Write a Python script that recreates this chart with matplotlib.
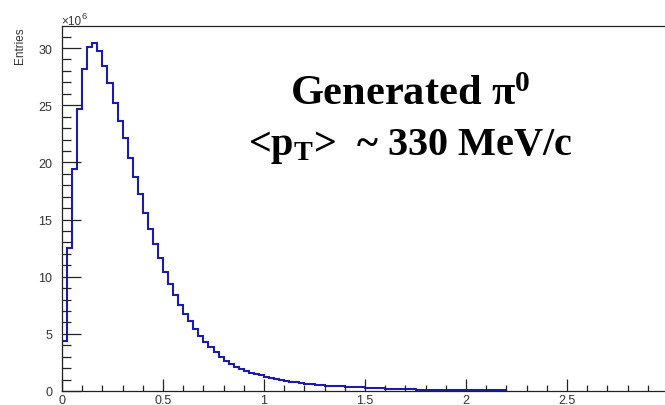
import numpy as np
import matplotlib
matplotlib.use("Agg")
import matplotlib.pyplot as plt
from matplotlib.ticker import MultipleLocator

# generated pi0 pT spectrum, entries in units of 1e6, bins of 0.025 GeV/c from 0 to 2.2
bin_lo = 0.0
bin_hi = 2.2
entries = [
    4.4, 12.5, 19.4, 24.7, 28.2, 30.1, 30.4, 29.7, 28.4, 26.9,
    25.2, 23.6, 22.1, 20.4, 18.7, 17.2, 15.6, 14.2, 12.9, 11.6,
    10.4, 9.4, 8.4, 7.5, 6.75, 6.1, 5.42, 4.85,
    4.3, 3.85, 3.4, 3.0, 2.65, 2.35, 2.1, 1.9, 1.75, 1.6,
    1.5, 1.38, 1.25, 1.12, 1.02, 0.93, 0.87, 0.80, 0.75, 0.68,
    0.64, 0.58, 0.52, 0.50, 0.47, 0.45, 0.43, 0.41, 0.38, 0.36,
    0.34, 0.32, 0.29, 0.27, 0.25, 0.22, 0.19, 0.17, 0.16, 0.15,
    0.14, 0.14, 0.13, 0.13, 0.13, 0.12, 0.12, 0.12, 0.11, 0.11,
    0.11, 0.11, 0.10, 0.10, 0.10, 0.10, 0.10, 0.10, 0.10, 0.10,
]
edges = np.linspace(bin_lo, bin_hi, len(entries) + 1)
xticks = [0, 0.5, 1, 1.5, 2, 2.5]
xticklabels = ["0", "0.5", "1", "1.5", "2", "2.5"]

plt.rcParams["mathtext.fontset"] = "custom"
plt.rcParams["mathtext.rm"] = "Liberation Serif:bold"
plt.rcParams["mathtext.it"] = "Liberation Serif:bold"
plt.rcParams["mathtext.bf"] = "Liberation Serif:bold"

fig = plt.figure(figsize=(6.65, 4.06), dpi=100)
ax = fig.add_axes([62 / 665, 14 / 406, 606 / 665, 365 / 406])

ax.stairs(entries, edges, color="#1c1cac", lw=1.5)

ax.set_xlim(0, 3)
ax.set_ylim(0, 31.93)

ax.xaxis.set_minor_locator(MultipleLocator(0.1))
ax.yaxis.set_major_locator(MultipleLocator(5))
ax.yaxis.set_minor_locator(MultipleLocator(1))
ax.set_xticks(xticks)
ax.set_xticklabels(xticklabels)

ax.tick_params(axis="x", which="major", direction="in", length=8.6, width=0.9,
               color="#222222", pad=2.5, labelsize=9, labelcolor="#333333")
ax.tick_params(axis="x", which="minor", direction="in", length=4.3, width=0.9, color="#222222")
ax.tick_params(axis="y", which="major", direction="in", length=13.7, width=0.9,
               color="#222222", pad=7, labelsize=9, labelcolor="#333333")
ax.tick_params(axis="y", which="minor", direction="in", length=6.5, width=0.9, color="#222222")
for lab in ax.get_xticklabels() + ax.get_yticklabels():
    lab.set_family("Liberation Sans")

for s in ax.spines.values():
    s.set_color("#222222")
    s.set_linewidth(0.9)

fig.text(20 / 665, 1 - 27 / 406, "Entries", rotation=90, ha="center", va="top",
         fontsize=8.5, family="Liberation Sans", color="#333333")
fig.text(61 / 665, 1 - 25 / 406, "×10", ha="left", va="baseline",
         fontsize=8.5, family="Liberation Sans", color="#333333")
fig.text(82 / 665, 1 - 19 / 406, "6", ha="left", va="baseline",
         fontsize=6.5, family="Liberation Sans", color="#333333")

fig.text(410 / 665, 1 - 105 / 406, r"Generated π$^{0}$", ha="center", va="baseline",
         fontsize=30.5, family="Liberation Serif", weight="bold", color="black")
fig.text(410 / 665, 1 - 155 / 406, r"<p$_{\mathrm{T}}$>  ~ 330 MeV/c", ha="center",
         va="baseline", fontsize=29, family="Liberation Serif", weight="bold", color="black")

fig.savefig("out.png", dpi=100)
